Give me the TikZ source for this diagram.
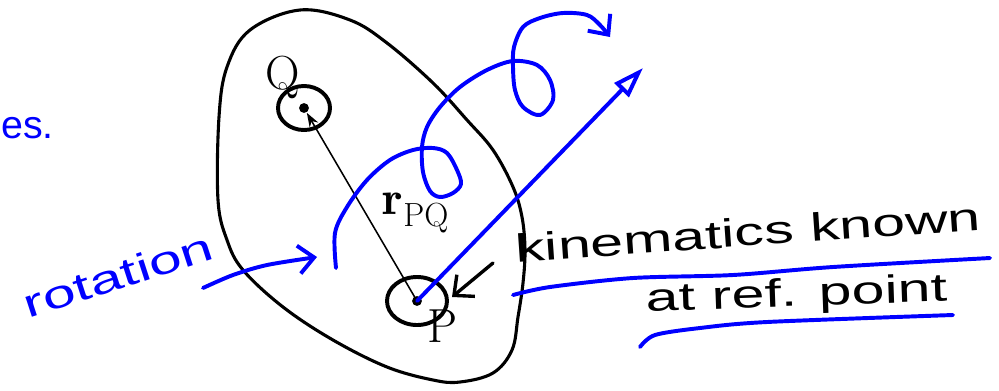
\documentclass[tikz,border=0pt]{standalone}
\usepackage{fontspec}
\usepackage{graphicx}
\newfontfamily\handfont{Liberation Sans}
\usetikzlibrary{arrows.meta}
\newcommand{\scrawl}[1]{\scalebox{1.5}[1]{\handfont #1}}
\tikzset{
  outline/.style={line width=2.2pt, line join=round},
  ink/.style={blue, line width=2.8pt, line cap=round, line join=round},
  hand/.style={font=\fontsize{28}{30}\selectfont, inner sep=0pt},
  ptlabel/.style={font=\fontsize{34}{38}\selectfont, inner sep=0pt},
  barb/.style={-{Straight Barb[length=11pt, width=20pt]}}
}
\begin{document}
\begin{tikzpicture}[x=0.025cm, y=-0.025cm]
  \useasboundingbox (0,0) rectangle (999,390);
  %body outline
  \draw[outline] plot[smooth cycle, tension=0.6] coordinates {(300,10) (350,20) (387,43) (433,83)
    (467,120) (493,150) (513,187) (522,217) (525,250) (523,283) (518,317) (512,350) (493,373)
    (460,382) (433,380) (387,367) (333,340) (283,307) (243,270) (227,240) (218,200) (219,117)
    (227,67) (250,30)};

  %points P and Q
  \coordinate (Q) at (304,108);
  \coordinate (P) at (417,301);
  \draw[outline, line width=2.8pt] (Q) ellipse [x radius=0.65cm, y radius=0.55cm];
  \draw[outline, line width=2.8pt] (P) ellipse [x radius=0.75cm, y radius=0.6cm];
  \fill (Q) circle (3.5pt);
  \fill (P) circle (3.5pt);
  \node[ptlabel] (Qlab) at (283,77) {Q};
  \node[ptlabel] (Plab) at (443,326) {P};

  %position vector
  \draw[line width=1.1pt, -{Stealth[length=10pt, width=7pt]}, shorten >=4pt] (P) -- (Q);
  \node[font=\fontsize{34}{38}\selectfont, inner sep=0pt] (rPQ) at (416,213) {$\mathbf{r}_{\mathrm{PQ}}$};

  %translation of reference point
  \coordinate (fly) at (643,68);
  \draw[ink, -{Triangle[open, length=22pt, width=14pt]}] (P) -- (fly);

  %rotation path
  \draw[ink, barb] plot[smooth, tension=0.55] coordinates {(336,268) (335,233) (347,207) (367,180)
    (390,160) (413,150) (433,148) (447,153) (457,170) (461,184) (453,193) (440,197) (430,191)
    (423,172) (422,147) (427,127) (440,107) (460,87) (487,70) (513,61) (537,65) (550,80)
    (553,100) (540,115) (523,107) (515,90) (513,67) (514,47) (523,27) (540,18) (563,13)
    (587,15) (600,25) (610,37)};

  %handwritten notes
  \node[hand, blue, anchor=base west, font=\handfont\fontsize{28}{30}\selectfont] (es) at (1,138) {es.};
  \node[hand, blue, rotate=18] (rot) at (118,275) {\scrawl{rotation}};
  \draw[ink, barb] plot[smooth] coordinates {(203,288) (233,275) (267,265) (317,257)};

  \node[hand, rotate=4] (kin) at (748,232) {\scrawl{kinematics known}};
  \node[hand, rotate=2] (ref) at (797,296) {\scrawl{at ref. point}};
  \coordinate (kinarrow) at (493,263);
  \draw[line width=2.4pt, line cap=round, barb] (kinarrow) -- (452,297);

  %underlines
  \draw[ink] plot[smooth] coordinates {(513,295) (550,287) (633,278) (733,275) (833,267) (990,258)};
  \draw[ink] plot[smooth] coordinates {(640,347) (655,335) (700,328) (767,322) (953,315)};
\end{tikzpicture}
\end{document}
